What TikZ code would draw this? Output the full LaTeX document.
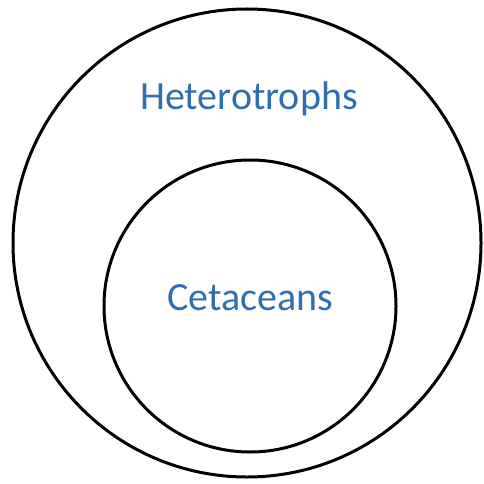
\documentclass[tikz,border=0pt]{standalone}
\usepackage{fontspec}
\setmainfont{Carlito}
\definecolor{labelblue}{RGB}{46,110,178}
\begin{document}
\begin{tikzpicture}[x=1pt,y=-1pt,
  ring/.style={draw=black,line width=3pt,circle,inner sep=0pt},
  lbl/.style={text=labelblue,font=\fontsize{40}{46}\selectfont,anchor=base,inner sep=0pt}]
\useasboundingbox (0,0) rectangle (483,484);
\node[ring,minimum size=468pt] (outer) at (247,243) {};
\node[ring,minimum size=292pt] (inner) at (250,306) {};
\node[lbl] (het) at (249,110) {Heterotrophs};
\node[lbl] (cet) at (250,310) {Cetaceans};
\end{tikzpicture}
\end{document}
